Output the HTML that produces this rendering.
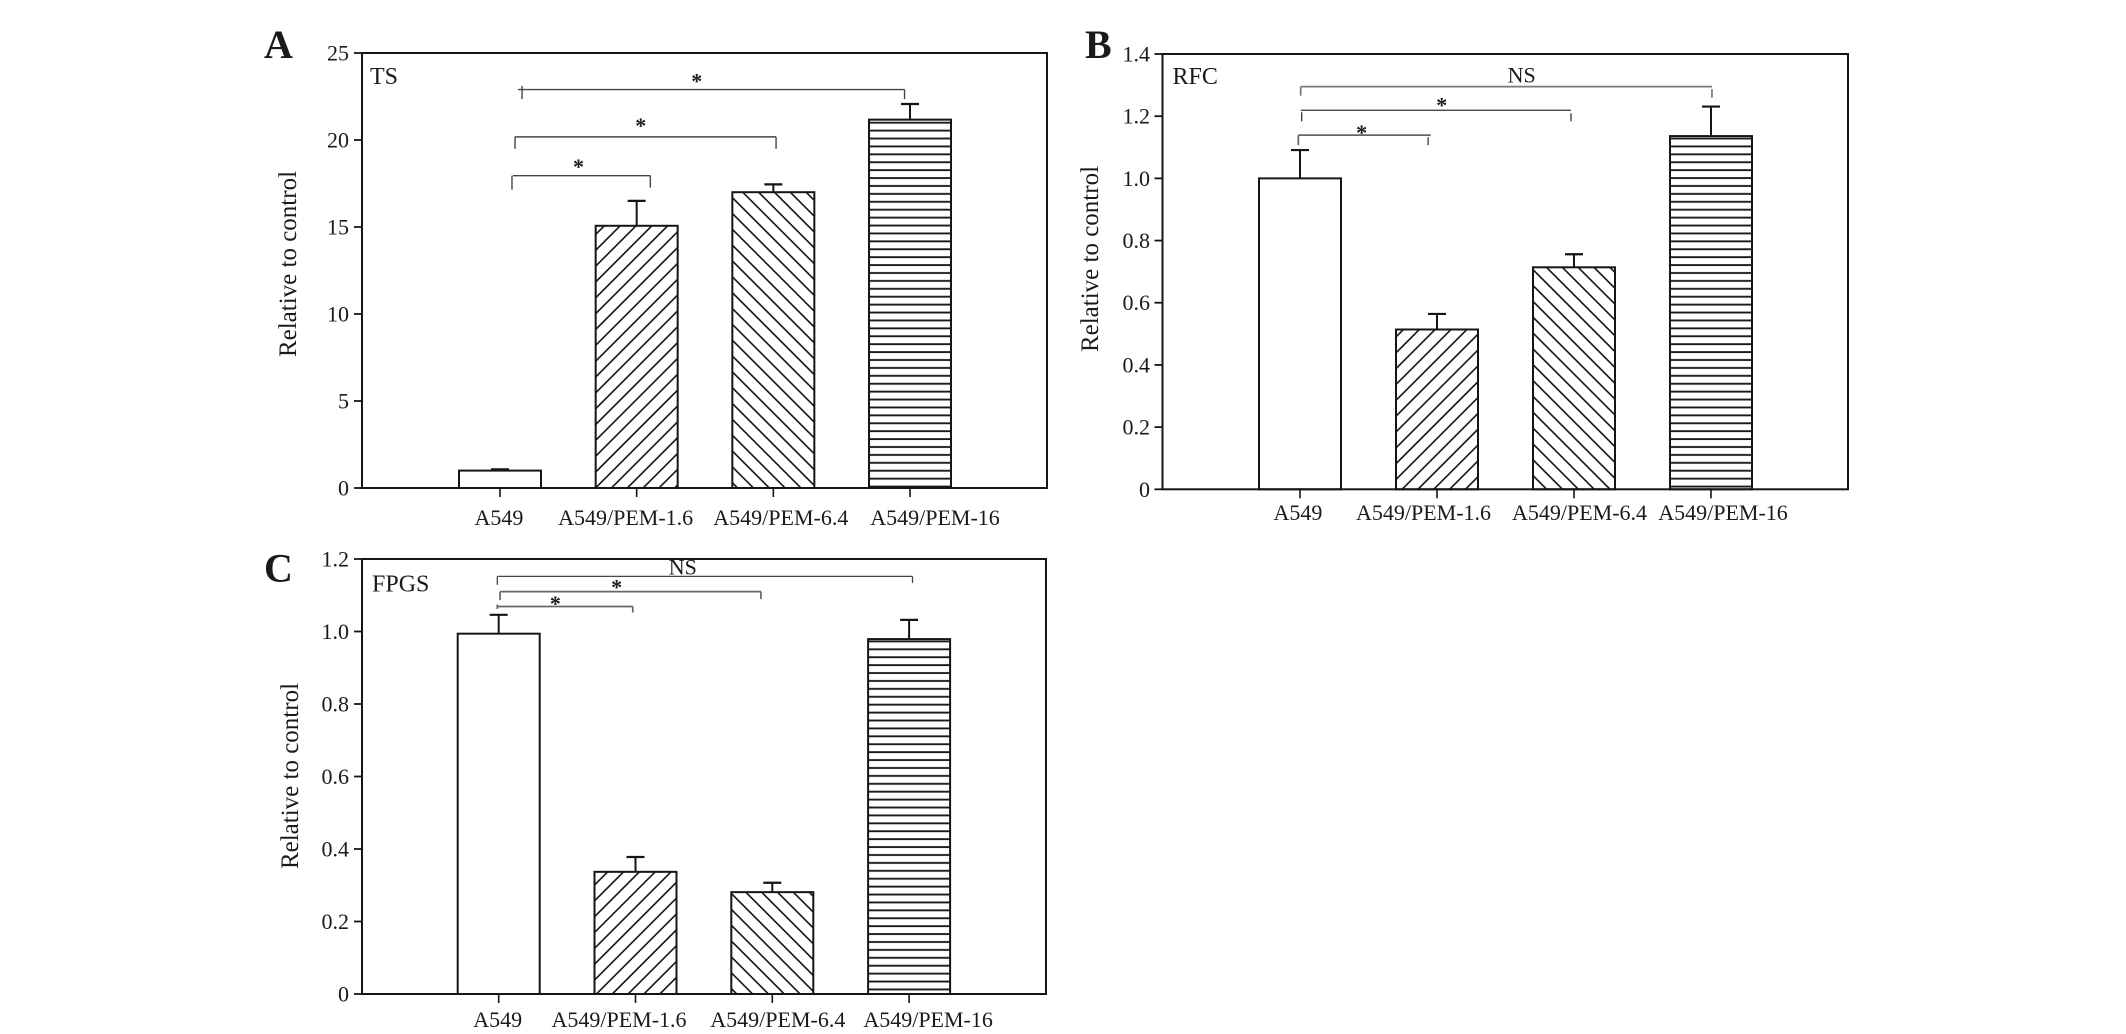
<!DOCTYPE html>
<html lang="en">
<head>
<meta charset="utf-8">
<title>Relative expression of TS, RFC and FPGS</title>
<style>
html,body{margin:0;padding:0;background:#fff;width:2126px;height:1034px;overflow:hidden}
svg{display:block}
text{font-family:"Liberation Serif","Times New Roman",serif;fill:#1a1a1a}
</style>
</head>
<body>
<svg id="fig" xmlns="http://www.w3.org/2000/svg" width="2126" height="1034" viewBox="0 0 2126 1034">
<defs>
<pattern id="hatch-forward" patternUnits="userSpaceOnUse" width="11.2" height="11.2" patternTransform="rotate(45)"><line x1="4.6" y1="0" x2="4.6" y2="11.2" stroke="#111" stroke-width="1.6"/></pattern>
<pattern id="hatch-backward" patternUnits="userSpaceOnUse" width="11.2" height="11.2" patternTransform="rotate(-45)"><line x1="8.5" y1="0" x2="8.5" y2="11.2" stroke="#111" stroke-width="1.6"/></pattern>
<pattern id="hatch-horizontal-ab" patternUnits="userSpaceOnUse" width="8" height="7.91"><rect x="0" y="3.1" width="8" height="1.9" fill="#1a1a1a"/></pattern>
<pattern id="hatch-horizontal-c" patternUnits="userSpaceOnUse" width="8" height="7.91" patternTransform="translate(0,-3.35)"><rect x="0" y="3.1" width="8" height="1.9" fill="#1a1a1a"/></pattern>
</defs>
</svg>
<script>
const categories = ["A549", "A549/PEM-1.6", "A549/PEM-6.4", "A549/PEM-16"];

const tsTicks = ["0", "5", "10", "15", "20", "25"];
const tsValues = [1.0, 15.07, 17.0, 21.17];
const tsErrors = [1.07, 16.5, 17.45, 22.07];
const tsBracketLevels = [17.95, 20.18, 22.9];
const tsBracketStarts = [0.095, 0.11, 0.132];
const tsBracketEnds = [1.10, 2.02, 2.96];
const tsBracketLabels = ["*", "*", "*"];
const tsBracketLabelAt = [0.574, 1.03, 1.44];

const rfcTicks = ["0", "0.2", "0.4", "0.6", "0.8", "1.0", "1.2", "1.4"];
const rfcValues = [1.0, 0.514, 0.714, 1.136];
const rfcErrors = [1.091, 0.564, 0.756, 1.231];
const rfcBracketLevels = [1.139, 1.219, 1.295];
const rfcBracketStarts = [-0.012, 0.005, 0.005];
const rfcBracketEnds = [0.954, 1.978, 3.007];
const rfcBracketLabels = ["*", "*", "NS"];
const rfcBracketLabelAt = [0.45, 1.035, 1.618];

const fpgsTicks = ["0", "0.2", "0.4", "0.6", "0.8", "1.0", "1.2"];
const fpgsValues = [0.994, 0.337, 0.281, 0.979];
const fpgsErrors = [1.046, 0.378, 0.307, 1.032];
const fpgsBracketLevels = [1.069, 1.11, 1.152];
const fpgsBracketStarts = [-0.01, 0.01, -0.01];
const fpgsBracketEnds = [0.98, 1.917, 3.025];
const fpgsBracketLabels = ["*", "*", "NS"];
const fpgsBracketLabelAt = [0.414, 0.862, 1.346];

const panelA = {
  key: "ts", letter: "A", title: "TS", stripeFill: "url(#hatch-horizontal-ab)",
  left: 362, right: 1047, top: 53, bottom: 488, firstX: 500, stepX: 136.67, barW: 82,
  letterX: 264, letterY: 58, titleX: 370, titleY: 84,
  yLabelX: 296, yLabelY: 264, tickRight: 349, xLabelY: 525,
  xLabelShift: [-1, -11, 7.5, 25], starGap: [12, 14, 11.5], yMax: 25,
  ticks: tsTicks, values: tsValues, errors: tsErrors,
  levels: tsBracketLevels, starts: tsBracketStarts, ends: tsBracketEnds,
  labels: tsBracketLabels, labelAt: tsBracketLabelAt,
  bracketLook: [
    {color: "#444", width: 1.4, leftDx: -1, leftFrom: 0, leftTo: 14, rightDx: 0, rightFrom: 0, rightTo: 12},
    {color: "#444", width: 1.4, leftDx: 0, leftFrom: 0, leftTo: 12, rightDx: 0, rightFrom: 0, rightTo: 12},
    {color: "#444", width: 1.4, leftDx: 4, leftFrom: -3.5, leftTo: 9.5, rightDx: 0, rightFrom: 0, rightTo: 9.5}
  ]
};
const panelB = {
  key: "rfc", letter: "B", title: "RFC", stripeFill: "url(#hatch-horizontal-ab)",
  left: 1162.5, right: 1848, top: 54, bottom: 489.3, firstX: 1300, stepX: 137, barW: 82,
  letterX: 1085, letterY: 58, titleX: 1172.5, titleY: 84,
  yLabelX: 1098, yLabelY: 259, tickRight: 1150, xLabelY: 520,
  xLabelShift: [-2, -13.5, 5.5, 12], starGap: [5.7, 8, 4], yMax: 1.4,
  ticks: rfcTicks, values: rfcValues, errors: rfcErrors,
  levels: rfcBracketLevels, starts: rfcBracketStarts, ends: rfcBracketEnds,
  labels: rfcBracketLabels, labelAt: rfcBracketLabelAt,
  bracketLook: [
    {color: "#666", width: 1.7, leftDx: 0, leftFrom: 0, leftTo: 10, rightDx: -2.5, rightFrom: 2, rightTo: 10},
    {color: "#333", width: 1.3, leftDx: 1, leftFrom: 2, leftTo: 11, rightDx: 0, rightFrom: 3, rightTo: 11},
    {color: "#777", width: 1.7, leftDx: 0, leftFrom: 0, leftTo: 9, rightDx: 0, rightFrom: 2.5, rightTo: 11}
  ]
};
const panelC = {
  key: "fpgs", letter: "C", title: "FPGS", stripeFill: "url(#hatch-horizontal-c)",
  left: 362, right: 1046, top: 559, bottom: 994, firstX: 498.7, stepX: 136.8, barW: 82,
  letterX: 264, letterY: 581.7, titleX: 372, titleY: 591.7,
  yLabelX: 298, yLabelY: 776, tickRight: 349, xLabelY: 1027,
  xLabelShift: [-1, -16.5, 5.5, 19], starGap: [6, 7.4, 1.7], yMax: 1.2,
  ticks: fpgsTicks, values: fpgsValues, errors: fpgsErrors,
  levels: fpgsBracketLevels, starts: fpgsBracketStarts, ends: fpgsBracketEnds,
  labels: fpgsBracketLabels, labelAt: fpgsBracketLabelAt,
  bracketLook: [
    {color: "#666", width: 1.7, leftDx: 0, leftFrom: -2, leftTo: 2.5, rightDx: 0, rightFrom: 0, rightTo: 6},
    {color: "#666", width: 1.7, leftDx: 0, leftFrom: 0, leftTo: 8.5, rightDx: 0, rightFrom: 0, rightTo: 7.5},
    {color: "#444", width: 1.3, leftDx: 0, leftFrom: 0, leftTo: 8.5, rightDx: 0, rightFrom: 0, rightTo: 6.5}
  ]
};

const SVGNS = "http://www.w3.org/2000/svg";
const fig = document.getElementById("fig");

function mk(parent, tag, attrs, txt) {
  const el = document.createElementNS(SVGNS, tag);
  for (const k in attrs) el.setAttribute(k, attrs[k]);
  if (txt !== undefined) el.textContent = txt;
  parent.appendChild(el);
  return el;
}

function drawPanel(p) {
  const yScale = v => p.bottom - (v / p.yMax) * (p.bottom - p.top);
  const xScale = i => p.firstX + i * p.stepX;
  const ink = "#151515";
  const barFills = ["#fff", "url(#hatch-forward)", "url(#hatch-backward)", p.stripeFill];

  const g = mk(fig, "g", {});
  
  

  const letter = mk(g, "text", {x: p.letterX, y: p.letterY, "font-size": 40, "font-weight": "bold"}, p.letter);
  
  

  const title = mk(g, "text", {x: p.titleX, y: p.titleY, "font-size": 24}, p.title);
  
  

  const yTitle = mk(g, "text", {x: 0, y: 0, "font-size": 25, "text-anchor": "middle",
    transform: "translate(" + p.yLabelX + "," + p.yLabelY + ") rotate(-90)"}, "Relative to control");
  
  

  p.values.forEach((v, i) => {
    const cx = xScale(i);
    const topY = yScale(v);
    const errY = yScale(p.errors[i]);

    const stem = mk(g, "line", {x1: cx, x2: cx, y1: topY, y2: errY, stroke: ink, "stroke-width": 2});
    
    

    const cap = mk(g, "line", {x1: cx - 9, x2: cx + 9, y1: errY, y2: errY, stroke: ink, "stroke-width": 2.2});
    
    

    const bar = mk(g, "rect", {x: cx - p.barW / 2, y: topY, width: p.barW, height: p.bottom - topY,
      fill: barFills[i], stroke: ink, "stroke-width": 2});
    
    

    const tick = mk(g, "line", {x1: cx, x2: cx, y1: p.bottom, y2: p.bottom + 9, stroke: ink, "stroke-width": 1.6});
    
    

    const lab = mk(g, "text", {x: cx + p.xLabelShift[i], y: p.xLabelY, "font-size": 22, "text-anchor": "middle"}, categories[i]);
    
    
  });

  p.ticks.forEach(t => {
    const y = yScale(Number(t));

    const tick = mk(g, "line", {x1: p.left - 8, x2: p.left, y1: y, y2: y, stroke: ink, "stroke-width": 1.8});
    
    

    const lab = mk(g, "text", {x: p.tickRight, y: y + 7.5, "font-size": 22, "text-anchor": "end"}, t);
    
    
  });

  const frame = mk(g, "rect", {x: p.left, y: p.top, width: p.right - p.left, height: p.bottom - p.top,
    fill: "none", stroke: ink, "stroke-width": 2});
  
  

  p.levels.forEach((lvl, i) => {
    const y = yScale(lvl);
    const x0 = xScale(p.starts[i]);
    const x1 = xScale(p.ends[i]);
    const look = p.bracketLook[i];

    const span = mk(g, "line", {x1: x0, x2: x1, y1: y, y2: y, stroke: look.color, "stroke-width": look.width});
    
    

    const leftDrop = mk(g, "line", {x1: x0 + look.leftDx, x2: x0 + look.leftDx, y1: y + look.leftFrom, y2: y + look.leftTo,
      stroke: look.color, "stroke-width": look.width});
    
    

    const rightDrop = mk(g, "line", {x1: x1 + look.rightDx, x2: x1 + look.rightDx, y1: y + look.rightFrom, y2: y + look.rightTo,
      stroke: look.color, "stroke-width": look.width});
    
    

    const isStar = p.labels[i] === "*";
    const labY = isStar ? y - p.starGap[i] + 10.3 : y - p.starGap[i];
    const lab = mk(g, "text", {x: xScale(p.labelAt[i]), y: labY, "font-size": 22,
      "font-weight": isStar ? "bold" : "normal", "text-anchor": "middle"}, p.labels[i]);
    
    
  });
}

drawPanel(panelA);
drawPanel(panelB);
drawPanel(panelC);
</script>
</body>
</html>
